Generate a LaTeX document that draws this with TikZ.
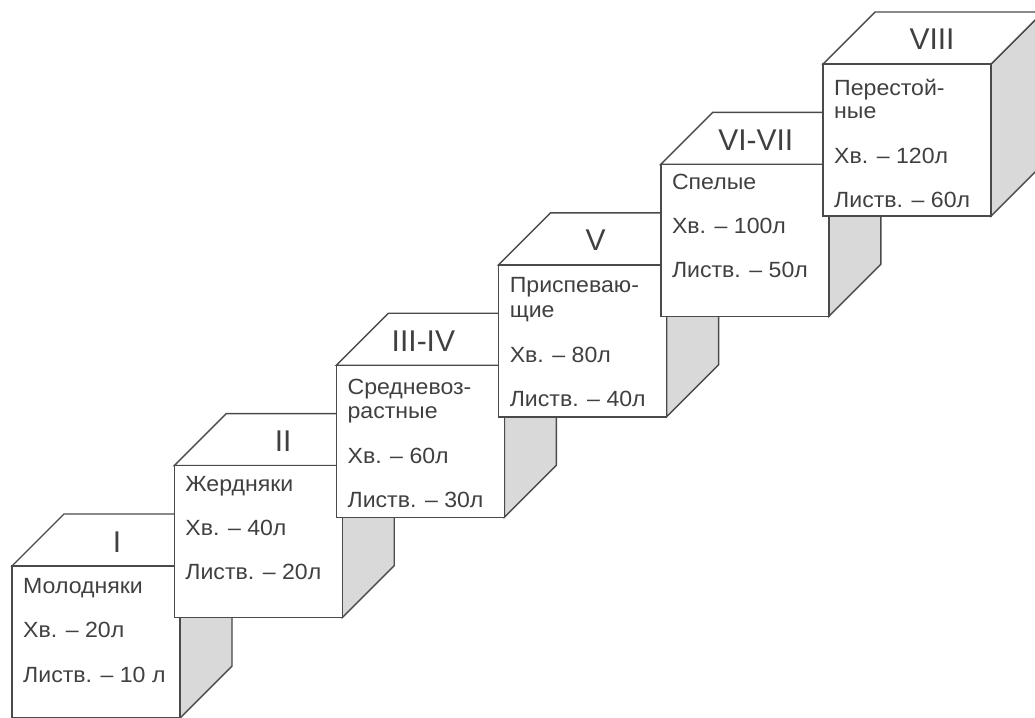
\documentclass[tikz,border=0pt]{standalone}
\usepackage{fontspec}
\setmainfont{Liberation Sans}
\newfontfamily\bodyfont{Liberation Sans}[FakeStretch=1.05]
\definecolor{edge}{HTML}{4A4A4A}
\definecolor{ink}{HTML}{404040}
\definecolor{sidegray}{HTML}{D9D9D9}
\tikzset{
  face/.style={draw=edge, line width=1.4pt, fill=white, line join=miter},
  sideface/.style={draw=edge, line width=1.4pt, fill=sidegray, line join=miter},
  txt/.style={anchor=base west, inner sep=0pt, text=ink, font=\bodyfont\fontsize{22}{24}\selectfont},
  num/.style={anchor=base, inner sep=0pt, text=ink, font=\fontsize{30}{32}\selectfont},
}
\begin{document}
\begin{tikzpicture}[x=1pt,y=-1pt]
\useasboundingbox (0,0) rectangle (1035,717);
\clip (0,0) rectangle (1035,717);
\foreach \i/\n/\o in {0/I/105,1/II/109,2/III-IV/87,3/V/97,4/VI-VII/95,5/VIII/109} {
  \pgfmathsetmacro\X{12+162.2*\i}
  \pgfmathsetmacro\T{566-100.4*\i}
  \coordinate (c\i) at (\X,\T);
  \path[sideface] (\X+168,\T) -- ++(52,-52) -- ++(0,152) -- ++(-52,52) -- cycle;
  \path[face] (\X,\T) -- ++(52,-52) -- ++(168,0) -- ++(-52,52) -- cycle;
  \path[face] (\X,\T) rectangle (\X+168,\T+152);
  \node[num] (num\i) at (\X+\o,\T-14) {\n};
}
% cube I
\node[txt] (t0a) at ([shift={(11,27)}]c0) {Молодняки};
\node[txt] (t0b) at ([shift={(11,71)}]c0) {Хв. – 20л};
\node[txt] (t0c) at ([shift={(11,116)}]c0) {Листв. – 10 л};
% cube II
\node[txt] (t1a) at ([shift={(11,26)}]c1) {Жердняки};
\node[txt] (t1b) at ([shift={(11,70)}]c1) {Хв. – 40л};
\node[txt] (t1c) at ([shift={(11,114)}]c1) {Листв. – 20л};
% cube III-IV
\node[txt] (t2a) at ([shift={(11,29)}]c2) {Средневоз-};
\node[txt] (t2b) at ([shift={(11,53)}]c2) {растные};
\node[txt] (t2c) at ([shift={(11,98)}]c2) {Хв. – 60л};
\node[txt] (t2d) at ([shift={(11,142)}]c2) {Листв. – 30л};
% cube V
\node[txt] (t3a) at ([shift={(11,28)}]c3) {Приспеваю-};
\node[txt] (t3b) at ([shift={(11,53)}]c3) {щие};
\node[txt] (t3c) at ([shift={(11,98)}]c3) {Хв. – 80л};
\node[txt] (t3d) at ([shift={(11,142)}]c3) {Листв. – 40л};
% cube VI-VII
\node[txt] (t4a) at ([shift={(11,25)}]c4) {Спелые};
\node[txt] (t4b) at ([shift={(11,69)}]c4) {Хв. – 100л};
\node[txt] (t4c) at ([shift={(11,113)}]c4) {Листв. – 50л};
% cube VIII
\node[txt] (t5a) at ([shift={(11,31)}]c5) {Перестой-};
\node[txt] (t5b) at ([shift={(11,54)}]c5) {ные};
\node[txt] (t5c) at ([shift={(11,99)}]c5) {Хв. – 120л};
\node[txt] (t5d) at ([shift={(11,143)}]c5) {Листв. – 60л};
\end{tikzpicture}
\end{document}
